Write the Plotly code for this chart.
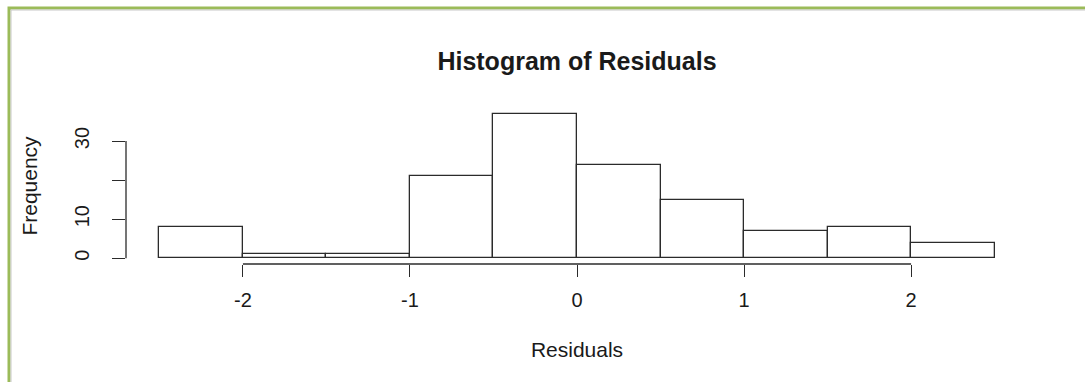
import plotly.graph_objects as go

# ---- data ----
bin_edges = [-2.5, -2.0, -1.5, -1.0, -0.5, 0.0, 0.5, 1.0, 1.5, 2.0, 2.5]
counts = [8, 1, 1, 21, 37, 24, 15, 7, 8, 4]
x_tick_vals = [-2, -1, 0, 1, 2]
x_tick_text = ["-2", "-1", "0", "1", "2"]
y_tick_vals = [0, 10, 20, 30]
y_tick_text = ["0", "10", "", "30"]

centers = [(a + b) / 2 for a, b in zip(bin_edges[:-1], bin_edges[1:])]
widths = [b - a for a, b in zip(bin_edges[:-1], bin_edges[1:])]

FONT = "Liberation Sans, Arial, sans-serif"
INK = "#1a1a1a"
LINE = "#2b2b2b"

W, H = 1085, 382
ML, MR, MT, MB = 126, 57, 108, 118
PW, PH = W - ML - MR, H - MT - MB


def px_x(px):
    return (px - ML) / PW


def px_y(py):
    return (H - MB - py) / PH


fig = go.Figure()
fig.add_trace(go.Bar(
    x=centers, y=counts, width=widths,
    marker=dict(color="white", line=dict(color=LINE, width=1.3)),
    hoverinfo="x+y", showlegend=False,
))

xmin, xmax = bin_edges[0], bin_edges[-1]
xpad = 0.04 * (xmax - xmin)
ymax = max(counts)
ypad = 0.04 * ymax

shapes = [
    # R-style axis lines spanning only first..last tick
    dict(type="line", xref="x", yref="paper", x0=x_tick_vals[0], x1=x_tick_vals[-1],
         y0=0, y1=0, line=dict(color=LINE, width=1.3)),
    dict(type="line", xref="paper", yref="y", x0=0, x1=0,
         y0=y_tick_vals[0], y1=y_tick_vals[-1], line=dict(color=LINE, width=1.3)),
    # frame of the screenshot (green border with grey inner edge)
    dict(type="rect", xref="paper", yref="paper", x0=px_x(9), x1=px_x(W + 20),
         y0=px_y(H + 20), y1=px_y(8), line=dict(color="#9bbb59", width=3), layer="above"),
    dict(type="rect", xref="paper", yref="paper", x0=px_x(11), x1=px_x(W + 20),
         y0=px_y(H + 20), y1=px_y(10), line=dict(color="#c8c8c8", width=1), layer="above"),
]

fig.update_layout(
    width=W, height=H,
    margin=dict(l=ML, r=MR, t=MT, b=MB, pad=0),
    paper_bgcolor="white", plot_bgcolor="white",
    bargap=0,
    font=dict(family=FONT, color=INK, size=20),
    title=dict(text="Histogram of Residuals", x=0.5, xref="paper", xanchor="center",
               y=1 - 61 / H, yref="container", yanchor="middle",
               font=dict(family=FONT, size=25, weight="bold", color=INK)),
    xaxis=dict(range=[xmin - xpad, xmax + xpad], showgrid=False, zeroline=False,
               showline=False, tickmode="array", tickvals=x_tick_vals, ticktext=x_tick_text,
               ticks="outside", ticklen=12, tickwidth=1.3, tickcolor=LINE,
               ticklabelstandoff=6,
               tickfont=dict(size=20, family=FONT, color=INK),
               title=dict(text="Residuals", font=dict(size=21, family=FONT, color=INK), standoff=32)),
    yaxis=dict(range=[-ypad, ymax + ypad], showgrid=False, zeroline=False,
               showline=False, tickmode="array", tickvals=y_tick_vals, ticktext=y_tick_text,
               ticks="outside", ticklen=13, tickwidth=1.3, tickcolor=LINE,
               tickangle=-90, ticklabelstandoff=15,
               tickfont=dict(size=20, family=FONT, color=INK),
               title=dict(text="Frequency", font=dict(size=21, family=FONT, color=INK), standoff=27)),
    shapes=shapes,
)

fig.write_html("out.html", config={"displayModeBar": False},
               post_script="document.body.style.margin='0';document.body.style.overflow='hidden';")
